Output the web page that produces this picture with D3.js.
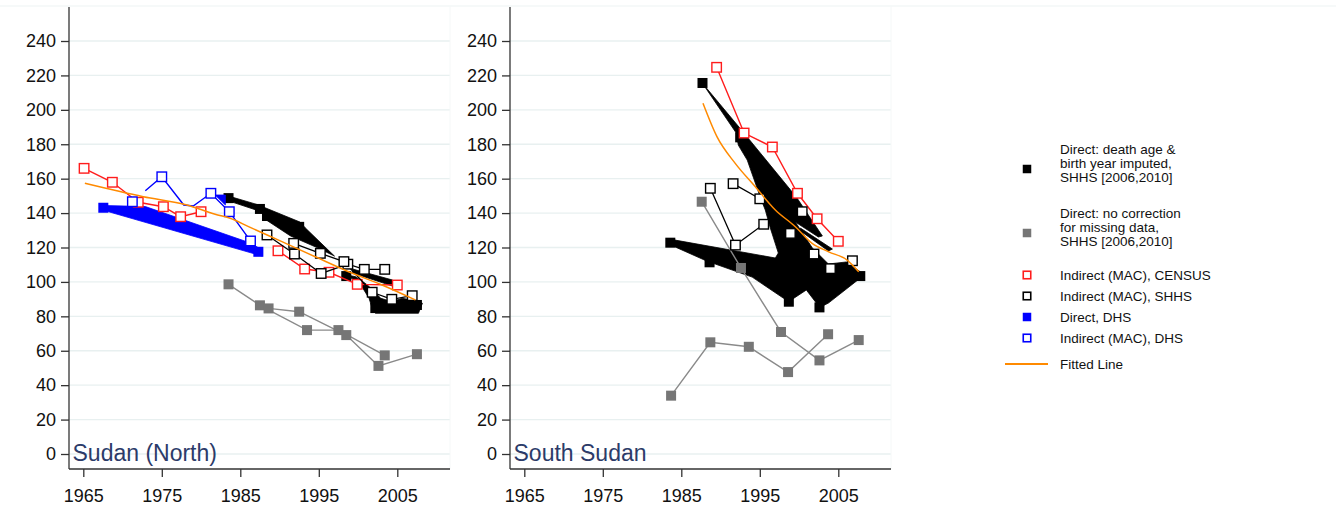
<!DOCTYPE html>
<html>
<head>
<meta charset="utf-8">
<script src="https://cdn.jsdelivr.net/npm/d3@7"></script>
<style>
  body { margin: 0; background: #fff; }
  text { font-family: "Liberation Sans", Arial, sans-serif; }
</style>
</head>
<body>
<svg width="1336" height="506"></svg>
<script>
// tick labels
var xTicks = [1965, 1975, 1985, 1995, 2005];
var yTicks = [0, 20, 40, 60, 80, 100, 120, 140, 160, 180, 200, 220, 240];

// ---- Sudan (North) ----
// [year, value, group]
var northCensus = [[1965.1, 166.0, 1], [1968.7, 157.9, 1], [1972.0, 146.3, 1], [1975.2, 143.7, 1], [1977.4, 137.9, 1], [1980.0, 140.8, 1],
  [1989.8, 118.1, 2], [1993.2, 107.5, 2], [1996.3, 105.6, 2], [1999.9, 98.6, 2], [2005.0, 98.2, 2]];
var northShhsIndirect = [[1988.4, 127.3, 1], [1991.9, 116.2, 1], [1995.3, 104.9, 1], [1998.7, 110.3, 1], [2000.8, 107.3, 1], [2003.4, 107.3, 1],
  [1991.8, 122.4, 2], [1995.2, 116.6, 2], [1998.2, 111.8, 2], [2001.8, 94.0, 2], [2004.3, 89.9, 2], [2006.9, 92.0, 2]];
var northImputed = [[1983.5, 148.7], [1987.5, 142.4], [1988.4, 138.3], [1992.5, 132.0], [1998.5, 103.4], [2002.2, 84.8], [2007.5, 86.6]];
var northImputedArea = [
  [[1983.5, 149.9], [1987.8, 144.1], [1987.8, 140.6], [1983.5, 147.1]],
  [[1987.3, 144.7], [1992.6, 134.8], [1993.3, 131.3], [1997.0, 115.0], [1994.9, 119.7], [1991.4, 126.7], [1988.3, 136.0], [1987.8, 140.0]],
  [[1998.0, 104.6], [2000.1, 100.1], [2001.4, 90.5], [2001.8, 84.7], [2002.2, 81.8], [2007.7, 81.8], [2008.2, 87.6], [2006.9, 89.5],
   [2005.6, 90.5], [2004.3, 88.5], [2002.9, 90.5], [2001.2, 98.2], [1999.7, 103.0]],
  [[1999.3, 107.5], [2004.4, 101.1], [2004.4, 97.6], [1999.3, 105.2]]
];
var northNoCorrection = [[1983.5, 98.6, 1], [1987.5, 86.4, 1], [1993.5, 72.0, 1], [1997.5, 72.0, 1], [2003.4, 57.3, 1],
  [1988.6, 84.6, 2], [1992.5, 82.7, 2], [1998.5, 69.1, 2], [2002.6, 51.2, 2], [2007.5, 58.0, 2]];
var northDhsDirect = [[1967.55, 143.1], [1987.3, 117.5]];
var northDhsArea = [
  [[1967.55, 144.4], [1972.9, 143.8], [1986.3, 122.6], [1987.8, 118.5], [1987.8, 115.0], [1967.9, 141.2]],
  [[1981.8, 150.5], [1983.1, 150.5], [1983.1, 144.7]]
];
// [year, value, group, marker]
var northDhsIndirect = [[1971.25, 146.6, 1, 1],
  [1972.9, 153.0, 2, 0], [1975.0, 161.1, 2, 1], [1977.8, 144.7, 2, 0], [1979.0, 144.1, 2, 0], [1981.25, 151.5, 2, 1], [1983.6, 140.8, 2, 1], [1986.3, 123.8, 2, 1]];
var northFitted = [[1965.2, 157.3], [1972.65, 149.5], [1978.2, 144.7], [1981.8, 139.3], [1983.7, 137.0], [1986.05, 132.1], [1990.3, 123.4],
  [1994.55, 114.6], [1998.8, 105.9], [2003.06, 98.2], [2007.3, 89.5]];

// ---- South Sudan ----
var southCensus = [[1989.5, 224.7, 1], [1993.0, 186.5, 1], [1996.6, 178.4, 1], [1999.8, 151.5, 1], [2002.3, 136.7, 1], [2005.0, 123.6, 1]];
var southShhsIndirect = [[1988.7, 154.4, 1], [1991.9, 121.4, 1], [1995.5, 133.5, 1],
  [1991.6, 157.1, 2], [1995.0, 148.3, 2], [1998.9, 128.2, 2], [2001.9, 116.2, 2], [2004.0, 107.7, 2], [2006.8, 112.3, 2],
  [2000.4, 140.8, 3]];
var southImputed = [[1987.7, 215.6], [1992.5, 184.0], [1983.6, 122.8], [1988.6, 111.4], [1998.7, 88.5], [2002.6, 85.2], [2007.8, 103.4]];
var southImputedArea = [
  [[1987.67, 215.6], [1992.77, 187.7], [1999.66, 149.3], [2002.97, 126.7], [2002.46, 126.1], [1999.53, 134.8], [2001.7, 119.7],
   [2003.74, 110.4], [2006.03, 111.6], [2007.82, 105.8], [2007.82, 102.3], [2003.74, 87.7], [2002.63, 85.2], [2000.93, 95.3],
   [1998.67, 88.5], [1997.99, 90.6], [1994.03, 102.8], [1989.32, 110.4], [1988.6, 111.4], [1984.22, 120.3], [1983.58, 122.8],
   [1984.22, 124.3], [1996.98, 113.9], [1997.36, 116.8], [1996.34, 131.3], [1995.7, 141.8], [1995.19, 147.6], [1993.4, 170.8],
   [1992.26, 179.5], [1992.0, 186.5]],
  [[2000.17, 131.3], [2004.25, 119.1], [2003.74, 118.0], [2000.17, 129.6]]
];
var southNoCorrection = [[1987.6, 146.6, 1], [1992.6, 108.1, 1], [1997.7, 70.9, 1], [2002.6, 54.4, 1], [2007.6, 66.2, 1],
  [1983.7, 33.9, 2], [1988.7, 64.9, 2], [1993.6, 62.3, 2], [1998.6, 47.6, 2], [2003.7, 69.6, 2]];
var southFitted = [[1987.76, 203.8], [1989.54, 184.4], [1991.87, 168.9], [1994.43, 155.3], [1996.98, 141.8], [1999.53, 132.1],
  [2001.66, 122.4], [2003.78, 117.5], [2006.12, 112.7], [2007.6, 105.9]];

var legendLabels = [
  ["Direct: death age &", "birth year imputed,", "SHHS [2006,2010]"],
  ["Direct: no correction", "for missing data,", "SHHS [2006,2010]"],
  ["Indirect (MAC), CENSUS"],
  ["Indirect (MAC), SHHS"],
  ["Direct, DHS"],
  ["Indirect (MAC), DHS"],
  ["Fitted Line"]
];

var RED = "#ff1c1c", BLUE = "#0000ff", GREY = "#767676", ORANGE = "#ff8a00";

var svg = d3.select("svg");
var y = d3.scaleLinear().domain([0, 240]).range([454, 41]);

// faint outer line at top
svg.append("line").attr("x1", 0).attr("x2", 1336).attr("y1", 6).attr("y2", 6)
  .attr("stroke", "#eef3f3").attr("stroke-width", 1.2);

function squares(g, x, pts, size, fill, stroke) {
  g.append("g").selectAll("rect").data(pts).enter().append("rect")
    .attr("x", function(d) { return x(d[0]) - size / 2; })
    .attr("y", function(d) { return y(d[1]) - size / 2; })
    .attr("width", size).attr("height", size)
    .attr("fill", fill)
    .attr("stroke", stroke || "none")
    .attr("stroke-width", stroke ? 1.4 : 0);
}

function groupedLines(g, line, pts, color, width) {
  d3.groups(pts, function(d) { return d[2]; }).forEach(function(grp) {
    g.append("path").attr("d", line(grp[1]))
      .attr("fill", "none").attr("stroke", color).attr("stroke-width", width);
  });
}

function panel(off, s) {
  var x = d3.scaleLinear().domain([1965, 2005]).range([83.3 + off, 397.3 + off]);
  var g = svg.append("g");
  var left = 69 + off, right = 450 + off;
  var line = d3.line().x(function(d) { return x(d[0]); }).y(function(d) { return y(d[1]); });

  // gridlines
  g.append("g").selectAll("line").data(yTicks).enter().append("line")
    .attr("x1", left).attr("x2", right)
    .attr("y1", function(d) { return y(d); }).attr("y2", function(d) { return y(d); })
    .attr("stroke", "#e8f0f0").attr("stroke-width", 1.3);
  g.append("line").attr("x1", right).attr("x2", right).attr("y1", 6).attr("y2", 469)
    .attr("stroke", "#f5f8f8").attr("stroke-width", 1);

  // axes
  var ya = g.append("g").attr("transform", "translate(" + left + ",0)")
    .call(d3.axisLeft(y).tickValues(yTicks).tickSize(8).tickPadding(5).tickSizeOuter(0));
  var xa = g.append("g").attr("transform", "translate(0,469)")
    .call(d3.axisBottom(x).tickValues(xTicks).tickFormat(d3.format("d")).tickSize(8).tickPadding(12).tickSizeOuter(0));
  [ya, xa].forEach(function(a) {
    a.select(".domain").remove();
    a.selectAll("line").attr("stroke", "#333").attr("stroke-width", 1.3);
    a.selectAll("text").attr("font-size", 18).attr("fill", "#111")
      .style("font-family", "'Liberation Sans', Arial, sans-serif");
  });
  g.append("line").attr("x1", left).attr("x2", left).attr("y1", 7).attr("y2", 469)
    .attr("stroke", "#333").attr("stroke-width", 1.3);
  g.append("line").attr("x1", left).attr("x2", right).attr("y1", 469).attr("y2", 469)
    .attr("stroke", "#333").attr("stroke-width", 1.3);

  // Direct imputed (black filled shapes)
  s.imputedArea.forEach(function(p) {
    g.append("path").attr("d", line(p) + "Z").attr("fill", "#000").attr("stroke", "#000").attr("stroke-width", 0.8);
  });
  squares(g, x, s.imputed, 10, "#000");

  // Direct, no correction (grey)
  groupedLines(g, line, s.noCorrection, "#8a8a8a", 1.4);
  squares(g, x, s.noCorrection, 10, GREY);

  // Direct, DHS
  if (s.dhsArea) {
    s.dhsArea.forEach(function(p) {
      g.append("path").attr("d", line(p) + "Z").attr("fill", BLUE).attr("stroke", BLUE).attr("stroke-width", 0.8);
    });
    squares(g, x, s.dhsDirect, 10, BLUE);
  }

  // Indirect, census
  groupedLines(g, line, s.census, RED, 1.4);
  squares(g, x, s.census, 9.5, "#fff", RED);

  // Indirect, SHHS
  groupedLines(g, line, s.shhs, "#000", 1.3);
  squares(g, x, s.shhs, 9.5, "#fff", "#000");

  // Indirect, DHS
  if (s.dhsIndirect) {
    groupedLines(g, line, s.dhsIndirect, BLUE, 1.4);
    squares(g, x, s.dhsIndirect.filter(function(d) { return d[3] === 1; }), 9.5, "#fff", BLUE);
  }

  // fitted line
  g.append("path").attr("d", line.curve(d3.curveMonotoneX)(s.fitted))
    .attr("fill", "none").attr("stroke", ORANGE).attr("stroke-width", 1.5);

  g.append("text").attr("x", left + 3.5).attr("y", 461).text(s.title)
    .attr("font-size", 23).attr("fill", "#2c3b69");
}

panel(0, {
  title: "Sudan (North)", census: northCensus, shhs: northShhsIndirect, imputed: northImputed,
  imputedArea: northImputedArea, noCorrection: northNoCorrection, dhsDirect: northDhsDirect,
  dhsArea: northDhsArea, dhsIndirect: northDhsIndirect, fitted: northFitted
});
panel(441, {
  title: "South Sudan", census: southCensus, shhs: southShhsIndirect, imputed: southImputed,
  imputedArea: southImputedArea, noCorrection: southNoCorrection, fitted: southFitted
});

// legend
var legendY = [169, 233, 275, 296, 317, 338, 364];
var legendMark = [
  { fill: "#000" }, { fill: GREY }, { fill: "#fff", stroke: RED }, { fill: "#fff", stroke: "#000" },
  { fill: BLUE }, { fill: "#fff", stroke: BLUE }, { line: ORANGE }
];
var lg = svg.append("g");
legendLabels.forEach(function(lines, i) {
  var cy = legendY[i], m = legendMark[i];
  if (m.line) {
    lg.append("line").attr("x1", 1005).attr("x2", 1048).attr("y1", cy).attr("y2", cy)
      .attr("stroke", m.line).attr("stroke-width", 2);
  } else {
    var sz = m.stroke ? 7.5 : 8.5;
    lg.append("rect").attr("x", 1027 - sz / 2).attr("y", cy - sz / 2).attr("width", sz).attr("height", sz)
      .attr("fill", m.fill).attr("stroke", m.stroke || "none").attr("stroke-width", m.stroke ? 1.6 : 0);
  }
  var start = lines.length === 3 ? cy - 20 : cy;
  lines.forEach(function(t, j) {
    lg.append("text").attr("x", 1060).attr("y", start + j * 14).attr("dy", "0.35em")
      .attr("font-size", 13.5).attr("fill", "#111").text(t);
  });
});
</script>
</body>
</html>
